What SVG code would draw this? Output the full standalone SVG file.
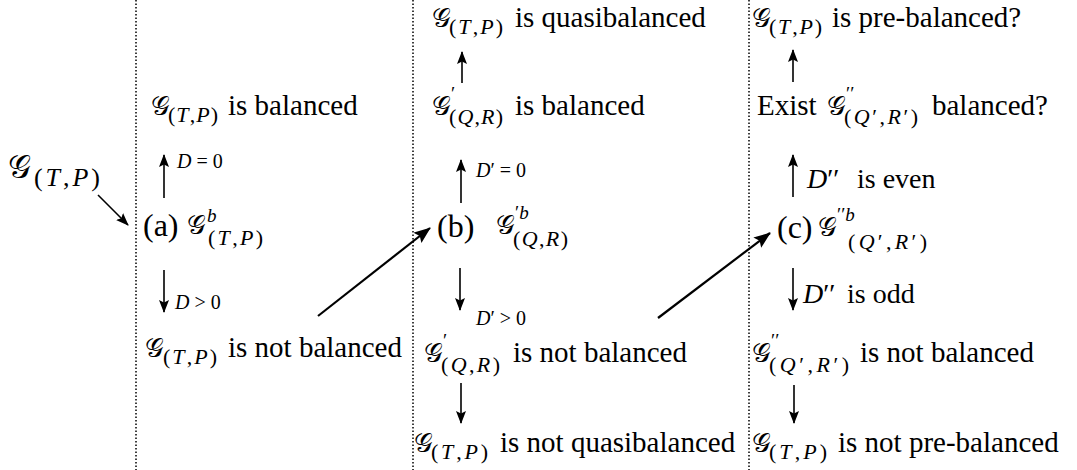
<svg xmlns="http://www.w3.org/2000/svg" width="1077" height="470" viewBox="0 0 1077 470">
<style>
.t{font-size:29px}
.g{font-size:26px}
.gL{font-size:32px}
.sub{font-size:22px}
.sup{font-size:19px}
.subL{font-size:26px}
.lab{font-size:20px}
.lab2{font-size:28px}
.i{font-style:italic}
.dot{stroke:#000;stroke-width:1.5;stroke-dasharray:1.5 2;fill:none}
.arr{stroke:#000;stroke-width:1.6;fill:none;marker-end:url(#ah)}
.arrB{stroke:#000;stroke-width:2.2;fill:none;marker-end:url(#ahB)}
</style>
<defs>
<marker id="ah" viewBox="0 0 13 10" refX="12" refY="5" markerWidth="13" markerHeight="10" markerUnits="userSpaceOnUse" orient="auto">
<path d="M0,0 L13,5 L0,10 L2.5,5 z" fill="#000"/>
</marker>
<marker id="ahB" viewBox="0 0 17 13" refX="16" refY="6.5" markerWidth="17" markerHeight="13" markerUnits="userSpaceOnUse" orient="auto">
<path d="M0,0 L17,6.5 L0,13 L3,6.5 z" fill="#000"/>
</marker>
</defs>
<rect width="1077" height="470" fill="#fff"/>
<g id="separators">
<line class="dot" x1="136" y1="0" x2="136" y2="470"/>
<line class="dot" x1="413" y1="0" x2="413" y2="470"/>
<line class="dot" x1="749" y1="0" x2="749" y2="470"/>
</g>
<g id="connectors">
<path class="arr" d="M98,195 L128,225"/>
<path class="arr" d="M164,198 L164,155"/>
<path class="arr" d="M164,270 L164,312"/>
<path class="arrB" d="M318,316 L430,228"/>
<path class="arr" d="M462,83 L462,52"/>
<path class="arr" d="M461,203 L461,160"/>
<path class="arr" d="M460,268 L460,310"/>
<path class="arr" d="M461,383 L461,423"/>
<path class="arrB" d="M658,318 L770,233"/>
<path class="arr" d="M793,82 L793,50"/>
<path class="arr" d="M793,197 L793,155"/>
<path class="arr" d="M793,268 L793,310"/>
<path class="arr" d="M794,385 L794,423"/>
</g>
<g id="start">
<text font-family="Liberation Serif"><tspan class="gL" x="8" y="178">𝒢</tspan><tspan class="subL" x="34" y="186" textLength="66">(<tspan class="i">T</tspan>,<tspan class="i">P</tspan>)</tspan></text>
</g>
<g id="node-a">
<text font-family="Liberation Serif"><tspan class="t" x="143" y="236" style="font-size:32px">(a)</tspan><tspan class="g" x="187" y="234">𝒢</tspan><tspan class="sup i" x="207" y="222">b</tspan><tspan class="sub" x="208" y="245" textLength="55">(<tspan class="i">T</tspan>,<tspan class="i">P</tspan>)</tspan></text>
</g>
<g id="a-balanced">
<text font-family="Liberation Serif"><tspan class="g" x="151" y="115">𝒢</tspan><tspan class="sub" x="168" y="122" textLength="50">(<tspan class="i">T</tspan>,<tspan class="i">P</tspan>)</tspan><tspan class="t" x="228" y="115">is balanced</tspan></text>
</g>
<g id="label-a-up"><text font-family="Liberation Serif" class="lab" x="177" y="168"><tspan class="i">D</tspan> = 0</text></g>
<g id="label-a-down"><text font-family="Liberation Serif" class="lab" x="175" y="309"><tspan class="i">D</tspan> &gt; 0</text></g>
<g id="a-not-balanced">
<text font-family="Liberation Serif"><tspan class="g" x="145" y="357">𝒢</tspan><tspan class="sub" x="163" y="364" textLength="54">(<tspan class="i">T</tspan>,<tspan class="i">P</tspan>)</tspan><tspan class="t" x="228" y="357">is not balanced</tspan></text>
</g>
<g id="b-quasibalanced">
<text font-family="Liberation Serif"><tspan class="g" x="432" y="27">𝒢</tspan><tspan class="sub" x="449" y="34" textLength="54">(<tspan class="i">T</tspan>,<tspan class="i">P</tspan>)</tspan><tspan class="t" x="515" y="27">is quasibalanced</tspan></text>
</g>
<g id="b-balanced">
<text font-family="Liberation Serif"><tspan class="g" x="432" y="115">𝒢</tspan><tspan class="sup" x="451" y="100">′</tspan><tspan class="sub" x="449" y="124" textLength="54">(<tspan class="i">Q</tspan>,<tspan class="i">R</tspan>)</tspan><tspan class="t" x="515" y="115">is balanced</tspan></text>
</g>
<g id="label-b-up"><text font-family="Liberation Serif" class="lab" x="476" y="177"><tspan class="i">D</tspan>′ = 0</text></g>
<g id="node-b">
<text font-family="Liberation Serif"><tspan class="t" x="437" y="237" style="font-size:32px">(b)</tspan><tspan class="g" x="496" y="234">𝒢</tspan><tspan class="sup" x="515" y="219">′<tspan class="i">b</tspan></tspan><tspan class="sub" x="513" y="246" textLength="55">(<tspan class="i">Q</tspan>,<tspan class="i">R</tspan>)</tspan></text>
</g>
<g id="label-b-down"><text font-family="Liberation Serif" class="lab" x="476" y="325"><tspan class="i">D</tspan>′ &gt; 0</text></g>
<g id="b-not-balanced">
<text font-family="Liberation Serif"><tspan class="g" x="424" y="362">𝒢</tspan><tspan class="sup" x="443" y="347">′</tspan><tspan class="sub" x="441" y="372" textLength="59">(<tspan class="i">Q</tspan>,<tspan class="i">R</tspan>)</tspan><tspan class="t" x="513" y="362">is not balanced</tspan></text>
</g>
<g id="b-not-quasibalanced">
<text font-family="Liberation Serif"><tspan class="g" x="414" y="452">𝒢</tspan><tspan class="sub" x="431" y="459" textLength="57">(<tspan class="i">T</tspan>,<tspan class="i">P</tspan>)</tspan><tspan class="t" x="500" y="452">is not quasibalanced</tspan></text>
</g>
<g id="c-prebalanced">
<text font-family="Liberation Serif"><tspan class="g" x="752" y="27">𝒢</tspan><tspan class="sub" x="769" y="34" textLength="53">(<tspan class="i">T</tspan>,<tspan class="i">P</tspan>)</tspan><tspan class="t" x="832" y="27">is pre-balanced?</tspan></text>
</g>
<g id="c-exist">
<text font-family="Liberation Serif"><tspan class="t" x="757" y="115">Exist</tspan><tspan class="g" x="827" y="115">𝒢</tspan><tspan class="sup" x="846" y="100">′′</tspan><tspan class="sub" x="844" y="124" textLength="74">(<tspan class="i">Q</tspan>′,<tspan class="i">R</tspan>′)</tspan><tspan class="t" x="932" y="115">balanced?</tspan></text>
</g>
<g id="label-c-up">
<text font-family="Liberation Serif" class="lab2"><tspan x="807" y="188" class="i">D</tspan><tspan>′′</tspan><tspan x="857" y="188">is even</tspan></text>
</g>
<g id="node-c">
<text font-family="Liberation Serif"><tspan class="t" x="777" y="238" style="font-size:32px">(c)</tspan><tspan class="g" x="818" y="236">𝒢</tspan><tspan class="sup" x="837" y="221">′′<tspan class="i">b</tspan></tspan><tspan class="sub" x="848" y="249" textLength="79">(<tspan class="i">Q</tspan>′,<tspan class="i">R</tspan>′)</tspan></text>
</g>
<g id="label-c-down">
<text font-family="Liberation Serif" class="lab2"><tspan x="803" y="303" class="i">D</tspan><tspan>′′</tspan><tspan x="847" y="303">is odd</tspan></text>
</g>
<g id="c-not-balanced">
<text font-family="Liberation Serif"><tspan class="g" x="752" y="362">𝒢</tspan><tspan class="sup" x="771" y="347">′′</tspan><tspan class="sub" x="769" y="372" textLength="80">(<tspan class="i">Q</tspan>′,<tspan class="i">R</tspan>′)</tspan><tspan class="t" x="860" y="362">is not balanced</tspan></text>
</g>
<g id="c-not-prebalanced">
<text font-family="Liberation Serif"><tspan class="g" x="752" y="452">𝒢</tspan><tspan class="sub" x="769" y="459" textLength="58">(<tspan class="i">T</tspan>,<tspan class="i">P</tspan>)</tspan><tspan class="t" x="838" y="452">is not pre-balanced</tspan></text>
</g>
</svg>
